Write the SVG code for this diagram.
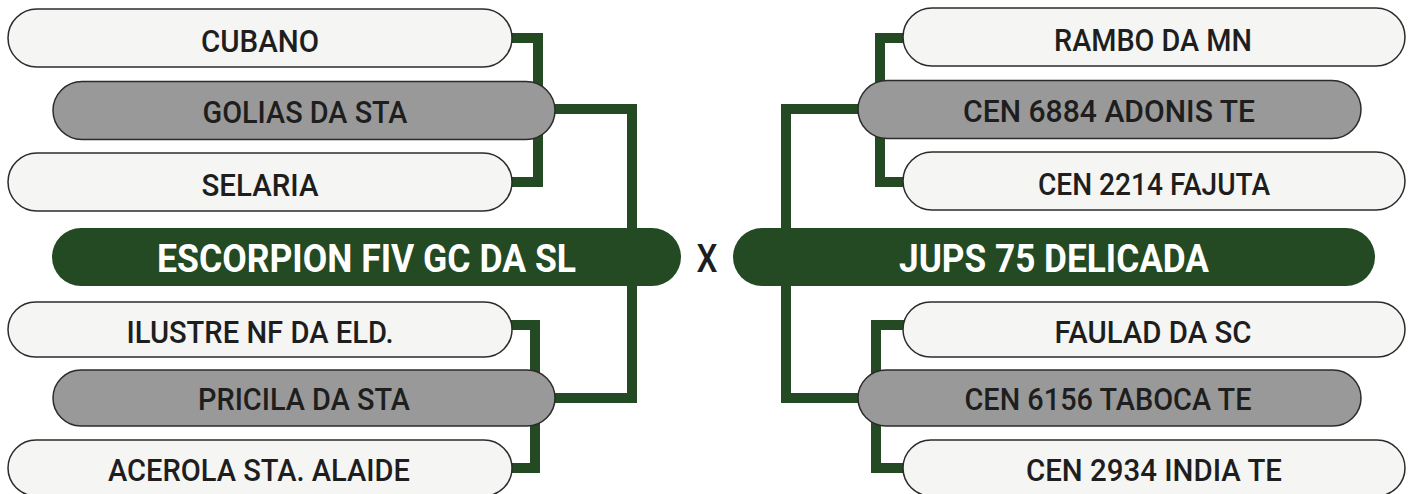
<svg xmlns="http://www.w3.org/2000/svg" width="1413" height="494" viewBox="0 0 1413 494">
<style>
.c{fill:none;stroke:#234a23;stroke-width:10;stroke-linejoin:miter;stroke-linecap:butt}
.w{fill:#f5f5f3;stroke:#2b2b2b;stroke-width:1.5}
.g{fill:#999999;stroke:#2b2b2b;stroke-width:1.5}
.m{fill:#234a23}
.t{font-family:Roboto,"Liberation Sans",sans-serif;font-weight:500;font-size:32px;fill:#1e1e1e;text-anchor:middle}
.mt{font-family:Roboto,"Liberation Sans",sans-serif;font-weight:700;font-size:38px;fill:#ffffff;text-anchor:middle}
.x{font-family:Roboto,"Liberation Sans",sans-serif;font-weight:500;font-size:39px;fill:#1e1e1e;text-anchor:middle}
</style>
<rect width="1413" height="494" fill="#ffffff"/>
<g id="connectors">
<path class="c" d="M500,38 H538 V182 H500"/>
<path class="c" d="M545,109 H632 V398 H545"/>
<path class="c" d="M500,325 H535 V468 H500"/>
<path class="c" d="M915,38 H880 V182 H915"/>
<path class="c" d="M870,109 H786 V398 H870"/>
<path class="c" d="M915,325 H876 V468 H915"/>
</g>
<g id="cubano"><rect class="w" x="8" y="9" width="504" height="58" rx="29"/><text class="t" x="260" y="52" textLength="118" lengthAdjust="spacingAndGlyphs">CUBANO</text></g>
<g id="golias"><rect class="g" x="53" y="81.5" width="502" height="58" rx="29"/><text class="t" x="305" y="123" textLength="205" lengthAdjust="spacingAndGlyphs">GOLIAS DA STA</text></g>
<g id="selaria"><rect class="w" x="8" y="153" width="504" height="58" rx="29"/><text class="t" x="260" y="196" textLength="117" lengthAdjust="spacingAndGlyphs">SELARIA</text></g>
<g id="escorpion"><rect class="m" x="52" y="228" width="629" height="58" rx="29"/><text class="mt" x="366.5" y="272" textLength="419" lengthAdjust="spacingAndGlyphs">ESCORPION FIV GC DA SL</text></g>
<g id="ilustre"><rect class="w" x="8" y="302" width="504" height="55" rx="27.5"/><text class="t" x="260" y="343" textLength="267" lengthAdjust="spacingAndGlyphs">ILUSTRE NF DA ELD.</text></g>
<g id="pricila"><rect class="g" x="53" y="370" width="502" height="56" rx="28"/><text class="t" x="304" y="410" textLength="212" lengthAdjust="spacingAndGlyphs">PRICILA DA STA</text></g>
<g id="acerola"><rect class="w" x="8" y="440" width="504" height="56" rx="28"/><text class="t" x="259" y="481" textLength="302" lengthAdjust="spacingAndGlyphs">ACEROLA STA. ALAIDE</text></g>
<g id="versus"><text class="x" x="707" y="272" textLength="21" lengthAdjust="spacingAndGlyphs">X</text></g>
<g id="rambo"><rect class="w" x="903" y="8" width="502" height="58" rx="29"/><text class="t" x="1153" y="51" textLength="198" lengthAdjust="spacingAndGlyphs">RAMBO DA MN</text></g>
<g id="cen6884"><rect class="g" x="858" y="80.5" width="503" height="58" rx="29"/><text class="t" x="1109" y="122" textLength="292" lengthAdjust="spacingAndGlyphs">CEN 6884 ADONIS TE</text></g>
<g id="cen2214"><rect class="w" x="903" y="152" width="502" height="58" rx="29"/><text class="t" x="1154" y="195" textLength="232" lengthAdjust="spacingAndGlyphs">CEN 2214 FAJUTA</text></g>
<g id="jups"><rect class="m" x="733" y="228" width="642" height="58" rx="29"/><text class="mt" x="1054" y="272" textLength="310" lengthAdjust="spacingAndGlyphs">JUPS 75 DELICADA</text></g>
<g id="faulad"><rect class="w" x="903" y="302" width="502" height="55" rx="27.5"/><text class="t" x="1153" y="343" textLength="197" lengthAdjust="spacingAndGlyphs">FAULAD DA SC</text></g>
<g id="cen6156"><rect class="g" x="858" y="370" width="503" height="56" rx="28"/><text class="t" x="1108" y="410" textLength="287" lengthAdjust="spacingAndGlyphs">CEN 6156 TABOCA TE</text></g>
<g id="cen2934"><rect class="w" x="903" y="440" width="502" height="56" rx="28"/><text class="t" x="1154" y="481" textLength="256" lengthAdjust="spacingAndGlyphs">CEN 2934 INDIA TE</text></g>
</svg>
